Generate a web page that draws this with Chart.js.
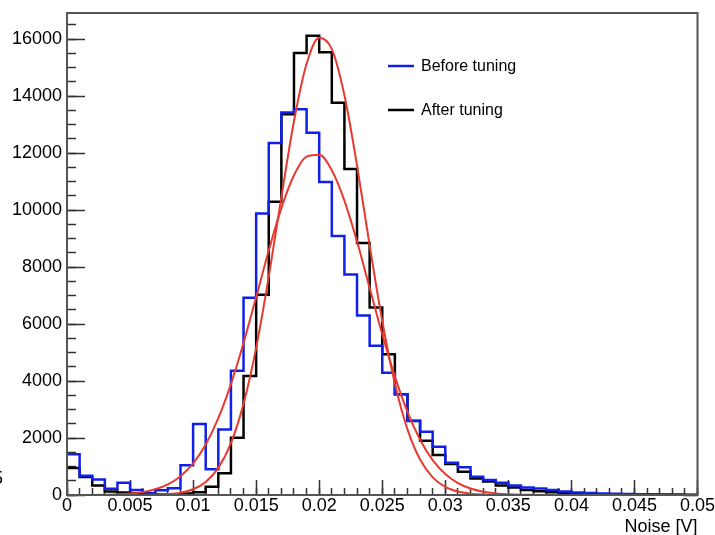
<!DOCTYPE html>
<html>
<head>
<meta charset="utf-8">
<title>Noise before / after tuning</title>
<script src="https://cdn.jsdelivr.net/npm/chart.js@4.4.1/dist/chart.umd.min.js"></script>
<style>
  html, body { margin: 0; padding: 0; background: #fff; }
  #chart { display: block; }
</style>
</head>
<body>
<canvas id="chart" width="715" height="535"></canvas>
<script>
// 50 bins of 0.001 V between 0 and 0.05 V
const binWidth = 0.001;
const binCount = 50;

// Entries per bin
const beforeCounts = [
    1430, 680, 540, 220, 430, 175, 60, 170, 240, 1040,
    2490, 900, 2300, 4360, 6920, 9880, 12360, 13430, 13540, 12720,
    10990, 9090, 7740, 6300, 5240, 4290, 3540, 2610, 2220, 1690,
    1130, 970, 640, 530, 430, 330, 260, 230, 175, 120,
    90, 70, 55, 45, 35, 30, 25, 20, 15, 10
];
const afterCounts = [
    950, 630, 330, 120, 90, 60, 30, 20, 20, 50,
    100, 290, 760, 2010, 4175, 7030, 10290, 13370, 15520, 16120,
    15540, 13770, 11440, 8850, 6580, 4940, 3540, 2600, 1900, 1400,
    1090, 820, 580, 470, 330, 260, 175, 130, 100, 75,
    55, 40, 30, 25, 20, 15, 10, 8, 5, 3
];

// Red fit curves, read every 0.001 V from 0 to 0.05 V
const beforeFit = [
    1, 2, 4, 10, 22, 49, 101, 199, 371, 659,
    1110, 1775, 2698, 3893, 5334, 6942, 8580, 10069, 11223, 11879,
    11940, 11399, 10333, 8896, 7272, 5646, 4163, 2915, 1939, 1224,
    734, 417, 226, 116, 57, 26, 11, 5, 2, 0,
    0, 0, 0, 0, 0, 0, 0, 0, 0, 0, 0
];
const afterFit = [
    0, 0, 0, 0, 0, 1, 3, 11, 31, 83,
    203, 460, 953, 1822, 3199, 5165, 7664, 10458, 13120, 15136,
    16053, 15654, 14034, 11568, 8767, 6109, 3914, 2305, 1248, 621,
    285, 120, 46, 16, 5, 2, 0, 0, 0, 0,
    0, 0, 0, 0, 0, 0, 0, 0, 0, 0, 0
];

// Axis ticks
const xTickValues = [0, 0.005, 0.01, 0.015, 0.02, 0.025, 0.03, 0.035, 0.04, 0.045, 0.05];
const xTickLabels = ['0', '0.005', '0.01', '0.015', '0.02', '0.025', '0.03', '0.035', '0.04', '0.045', '0.05'];
const yTickValues = [0, 2000, 4000, 6000, 8000, 10000, 12000, 14000, 16000];
const yTickLabels = ['0', '2000', '4000', '6000', '8000', '10000', '12000', '14000', '16000'];
const xMax = 0.05;
const yMax = 16920;

const blue = '#1020e8';
const black = '#000000';
const red = '#e8392f';
const tickColor = '#333333';

Chart.defaults.font.family = '"Liberation Sans", Arial, Helvetica, sans-serif';

// histogram as stepped line: one point on each low bin edge, plus the last edge
function histPoints(counts) {
    const pts = counts.map((c, i) => ({ x: i * binWidth, y: c }));
    pts.push({ x: binCount * binWidth, y: counts[counts.length - 1] });
    return pts;
}

function curvePoints(values) {
    return values.map((v, i) => ({ x: i * binWidth, y: v }));
}

function setTicks(values) {
    return function(scale) {
        scale.ticks = values.map(v => ({ value: v }));
    };
}

function fixedSize(size) {
    return function(scale) {
        if (scale.isHorizontal()) {
            scale.height = size;
        } else {
            scale.width = size;
        }
        scale.paddingLeft = 0;
        scale.paddingRight = 0;
        scale.paddingTop = 0;
        scale.paddingBottom = 0;
    };
}

const minorX = [];
for (let i = 0; i <= binCount; i++) minorX.push(i * binWidth);
const minorY = [];
for (let v = 0; v <= yMax; v += 500) minorY.push(v);

// frame, legend box and the clipped glyph at the left edge
const framePlugin = {
    id: 'frame',
    afterDraw(chart) {
        const ctx = chart.ctx;
        const a = chart.chartArea;
        ctx.save();
        ctx.strokeStyle = '#555';
        ctx.lineWidth = 2;
        ctx.strokeRect(a.left, a.top, a.right - a.left, a.bottom - a.top);

        const entries = [
            { label: chart.data.datasets[2].label, color: blue, y: 66 },
            { label: chart.data.datasets[3].label, color: black, y: 110 }
        ];
        ctx.font = '16px "Liberation Sans", Arial, sans-serif';
        ctx.textBaseline = 'middle';
        ctx.fillStyle = '#000';
        entries.forEach(e => {
            ctx.strokeStyle = e.color;
            ctx.lineWidth = 2.5;
            ctx.beginPath();
            ctx.moveTo(388, e.y);
            ctx.lineTo(414, e.y);
            ctx.stroke();
            ctx.fillText(e.label, 421, e.y + 1);
        });

        ctx.font = '18px "Liberation Sans", Arial, sans-serif';
        ctx.fillText('5', -7, 479);
        ctx.restore();
    }
};

new Chart(document.getElementById('chart'), {
    type: 'line',
    data: {
        datasets: [
            {
                label: 'Fit after tuning',
                data: curvePoints(afterFit),
                borderColor: red,
                borderWidth: 2,
                pointRadius: 0,
                cubicInterpolationMode: 'monotone',
                fill: false,
                clip: false
            },
            {
                label: 'Fit before tuning',
                data: curvePoints(beforeFit),
                borderColor: red,
                borderWidth: 2,
                pointRadius: 0,
                cubicInterpolationMode: 'monotone',
                fill: false,
                clip: false
            },
            {
                label: 'Before tuning',
                data: histPoints(beforeCounts),
                borderColor: blue,
                borderWidth: 2.5,
                pointRadius: 0,
                stepped: 'before',
                fill: false,
                clip: false
            },
            {
                label: 'After tuning',
                data: histPoints(afterCounts),
                borderColor: black,
                borderWidth: 2.5,
                pointRadius: 0,
                stepped: 'before',
                fill: false,
                clip: false
            }
        ]
    },
    options: {
        responsive: false,
        animation: false,
        devicePixelRatio: 1,
        layout: { padding: { top: 13, right: 17.5, bottom: 0, left: 0 } },
        plugins: {
            legend: { display: false },
            tooltip: { enabled: false }
        },
        scales: {
            x: {
                type: 'linear',
                position: 'bottom',
                weight: 1,
                min: 0,
                max: xMax,
                afterBuildTicks: setTicks(xTickValues),
                afterFit: fixedSize(40),
                border: { display: false },
                grid: {
                    display: true,
                    drawOnChartArea: false,
                    drawTicks: true,
                    tickLength: -15,
                    tickColor: tickColor,
                    tickWidth: 1.5
                },
                ticks: {
                    autoSkip: false,
                    maxRotation: 0,
                    padding: 15,
                    color: '#000',
                    font: { size: 18 },
                    callback: (value, index) => xTickLabels[index]
                },
                title: {
                    display: true,
                    text: 'Noise [V]',
                    align: 'end',
                    color: '#000',
                    font: { size: 18 },
                    padding: { top: 0, bottom: -3 }
                }
            },
            xMinor: {
                type: 'linear',
                position: 'bottom',
                weight: 0,
                min: 0,
                max: xMax,
                afterBuildTicks: setTicks(minorX),
                afterFit: fixedSize(0),
                border: { display: false },
                grid: {
                    display: true,
                    drawOnChartArea: false,
                    drawTicks: true,
                    tickLength: -7,
                    tickColor: tickColor,
                    tickWidth: 1.5
                },
                ticks: { display: false }
            },
            y: {
                type: 'linear',
                position: 'left',
                weight: 1,
                min: 0,
                max: yMax,
                afterBuildTicks: setTicks(yTickValues),
                afterFit: fixedSize(67),
                border: { display: false },
                grid: {
                    display: true,
                    drawOnChartArea: false,
                    drawTicks: true,
                    tickLength: -18,
                    tickColor: tickColor,
                    tickWidth: 1.5
                },
                ticks: {
                    autoSkip: false,
                    padding: 23,
                    color: '#000',
                    font: { size: 18 },
                    callback: (value, index) => yTickLabels[index]
                }
            },
            yMinor: {
                type: 'linear',
                position: 'left',
                weight: 0,
                min: 0,
                max: yMax,
                afterBuildTicks: setTicks(minorY),
                afterFit: fixedSize(0),
                border: { display: false },
                grid: {
                    display: true,
                    drawOnChartArea: false,
                    drawTicks: true,
                    tickLength: -9,
                    tickColor: tickColor,
                    tickWidth: 1.5
                },
                ticks: { display: false }
            }
        }
    },
    plugins: [framePlugin]
});
</script>
</body>
</html>
